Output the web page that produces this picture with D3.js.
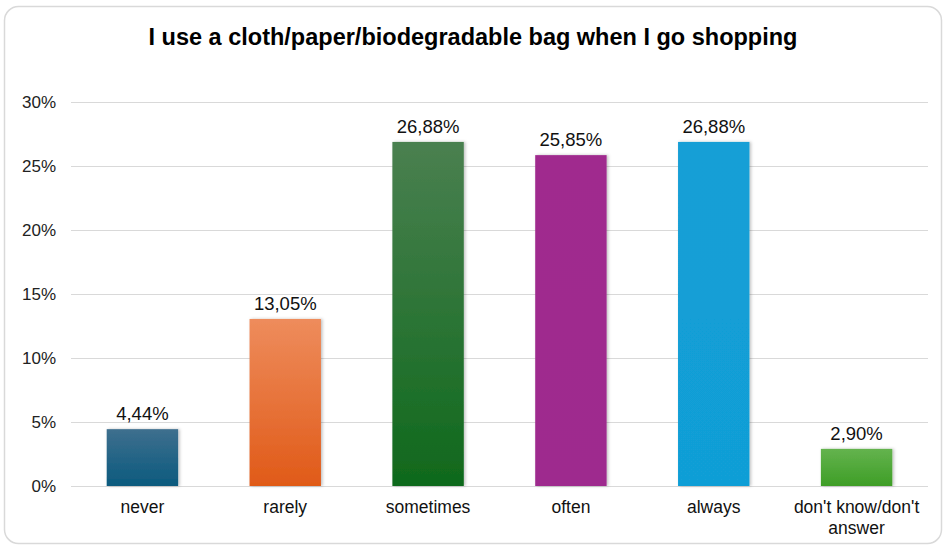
<!DOCTYPE html>
<html><head><meta charset="utf-8">
<script src="https://cdn.jsdelivr.net/npm/d3@7"></script>
<style>body{margin:0;background:#fff;} svg{display:block;font-family:"Liberation Sans",Arial,sans-serif;}</style>
</head><body>
<svg id="c" width="946" height="547"></svg>
<script>
const categories = ["never","rarely","sometimes","often","always","don't know/don't answer"];
const values = [4.44, 13.05, 26.88, 25.85, 26.88, 2.90];
const yTicks = [0,5,10,15,20,25,30];
const colorsTop = ["#3e6f8e","#ee8c5c","#4a8050","#a02c8e","#139fd6","#64b34e"];
const colorsBottom = ["#0b5a7e","#e05a18","#0f691c","#9e2a8e","#119ed6","#3e9e26"];
const title = "I use a cloth/paper/biodegradable bag when I go shopping";

const svg = d3.select("#c");
const W = 946, H = 547;
const m = {left:71, right:18, top:102, bottom:61};
const defs = svg.append("defs");
const f = defs.append("filter").attr("id","sh").attr("x","-20%").attr("y","-20%").attr("width","140%").attr("height","140%");
f.append("feDropShadow").attr("dx",1.5).attr("dy",0).attr("stdDeviation",1.5).attr("flood-color","#000").attr("flood-opacity",0.25);
categories.forEach((c,i)=>{
  const g = defs.append("linearGradient").attr("id","g"+i).attr("x1",0).attr("y1",0).attr("x2",0).attr("y2",1);
  g.append("stop").attr("offset","0%").attr("stop-color",colorsTop[i]);
  g.append("stop").attr("offset","100%").attr("stop-color",colorsBottom[i]);
});

svg.append("rect").attr("x",4.5).attr("y",6.5).attr("width",W-9).attr("height",H-10).attr("rx",14)
  .attr("fill","#fff").attr("stroke","#d9d9d9").attr("stroke-width",1.5);

svg.append("text").attr("x",473).attr("y",45).attr("text-anchor","middle")
  .attr("font-size",23.5).attr("font-weight","bold").attr("fill","#000").text(title);

const x = d3.scaleBand().domain(categories).range([m.left, W-m.right]).paddingInner(0.5).paddingOuter(0.25);
const y = d3.scaleLinear().domain([0,30]).range([H-m.bottom, m.top]);

const yAxis = d3.axisLeft(y).tickValues(yTicks).tickSize(-(W-m.right-m.left)).tickPadding(15).tickFormat(d=>d+"%");
const ga = svg.append("g").attr("transform",`translate(${m.left},0)`).call(yAxis);
ga.select(".domain").remove();
ga.selectAll(".tick line").attr("stroke","#d9d9d9").attr("stroke-width",1.2);
ga.selectAll(".tick text").attr("font-size",17).attr("fill","#222").attr("font-family","Liberation Sans, Arial, sans-serif");

svg.append("g").selectAll("rect").data(values).join("rect")
  .attr("x",(d,i)=>x(categories[i]))
  .attr("y",d=>y(d))
  .attr("width",x.bandwidth())
  .attr("height",d=>y(0)-y(d))
  .attr("fill",(d,i)=>`url(#g${i})`)
  .attr("filter","url(#sh)");

svg.append("g").selectAll("text").data(values).join("text")
  .attr("x",(d,i)=>x(categories[i])+x.bandwidth()/2)
  .attr("y",d=>y(d)-9)
  .attr("text-anchor","middle").attr("font-size",18.5).attr("fill","#111")
  .text(d=>d.toFixed(2).replace(".",",")+"%");

const xl = svg.append("g").selectAll("text").data(categories).join("text")
  .attr("x",d=>x(d)+x.bandwidth()/2)
  .attr("y",513).attr("text-anchor","middle").attr("font-size",17.5).attr("fill","#111");
xl.each(function(d){
  const t = d3.select(this);
  if (d.startsWith("don't")) {
    t.append("tspan").attr("x",x(d)+x.bandwidth()/2).attr("dy",0).text("don't know/don't");
    t.append("tspan").attr("x",x(d)+x.bandwidth()/2).attr("dy",21).text("answer");
  } else t.text(d);
});
</script>
</body></html>
